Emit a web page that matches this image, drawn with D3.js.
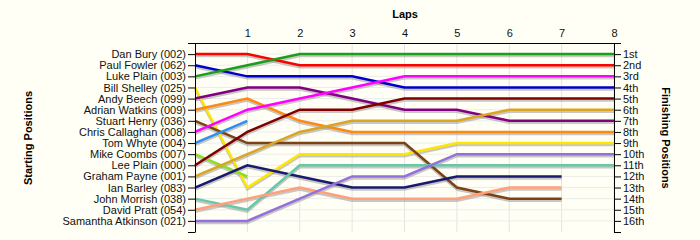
<!DOCTYPE html>
<html>
<head>
<meta charset="utf-8">
<script src="https://cdn.jsdelivr.net/npm/d3@7"></script>
<style>
  body { margin: 0; background: #fffff5; }
  svg { display: block; font-family: "Liberation Sans", Arial, sans-serif; }
</style>
</head>
<body>
<div id="chart"></div>
<script>
const width = 700;
const height = 240;

// drivers in starting order
const drivers = [
  "Dan Bury (002)", "Paul Fowler (062)", "Luke Plain (003)", "Bill Shelley (025)",
  "Andy Beech (099)", "Adrian Watkins (009)", "Stuart Henry (036)", "Chris Callaghan (008)",
  "Tom Whyte (004)", "Mike Coombs (007)", "Lee Plain (000)", "Graham Payne (001)",
  "Ian Barley (083)", "John Morrish (038)", "David Pratt (054)", "Samantha Atkinson (021)"
];
const colors = [
  "#ff0000", "#0000cc", "#1a9f1a", "#ffe600",
  "#800080", "#ff8811", "#7b4213", "#ff00ff",
  "#2f8fef", "#88e022", "#800000", "#daa520",
  "#191970", "#66c8a8", "#ffa07a", "#9370db"
];
// position at lap 0..n (lines stop where the driver stopped)
const positions = [
  [1, 1, 2, 2, 2, 2, 2, 2, 2],
  [2, 3, 3, 3, 4, 4, 4, 4, 4],
  [3, 2, 1, 1, 1, 1, 1, 1, 1],
  [4, 13, 10, 10, 10, 9, 9, 9, 9],
  [5, 4, 4, 5, 6, 6, 7, 7, 7],
  [6, 5, 7, 8, 8, 8, 8, 8, 8],
  [7, 9, 9, 9, 9, 13, 14, 14],
  [8, 6, 5, 4, 3, 3, 3, 3, 3],
  [9, 7],
  [10, 12],
  [11, 8, 6, 6, 5, 5, 5, 5, 5],
  [12, 10, 8, 7, 7, 7, 6, 6, 6],
  [13, 11, 12, 13, 13, 12, 12, 12],
  [14, 15, 11, 11, 11, 11, 11, 11, 11],
  [15, 14, 13, 14, 14, 14, 13, 13],
  [16, 16, 14, 12, 12, 10, 10, 10, 10]
];
const laps = [1, 2, 3, 4, 5, 6, 7, 8];
const finishLabels = ["1st", "2nd", "3rd", "4th", "5th", "6th", "7th", "8th",
  "9th", "10th", "11th", "12th", "13th", "14th", "15th", "16th"];

const svg = d3.select("#chart")
  .append("svg")
  .attr("width", width)
  .attr("height", height)
  .style("background", "#fffff5");

const x = d3.scaleLinear().domain([0, 8]).range([195, 614]);
const y = d3.scaleLinear().domain([0, 17]).range([43, 232]);
const rows = d3.range(0, 18);

// grid
svg.append("g")
  .selectAll("line")
  .data(laps)
  .join("line")
  .attr("x1", d => x(d)).attr("x2", d => x(d))
  .attr("y1", y(0)).attr("y2", y(17))
  .attr("stroke", "#e4e4e4");
svg.append("g")
  .selectAll("line")
  .data(d3.range(1, 17))
  .join("line")
  .attr("x1", x(0)).attr("x2", x(8))
  .attr("y1", d => y(d)).attr("y2", d => y(d))
  .attr("stroke", "#ececec");

const line = d3.line()
  .x((d, i) => x(i))
  .y(d => y(d));

// shadows first, then the coloured lines
svg.append("g")
  .attr("transform", "translate(0,2)")
  .selectAll("path")
  .data(positions)
  .join("path")
  .attr("d", line)
  .attr("fill", "none")
  .attr("stroke", "#999")
  .attr("stroke-opacity", 0.55)
  .attr("stroke-width", 2.5);

svg.append("g")
  .selectAll("path")
  .data(positions)
  .join("path")
  .attr("d", line)
  .attr("fill", "none")
  .attr("stroke", (d, i) => colors[i])
  .attr("stroke-width", 2.5);

// axes
const fmtLeft = d => (d >= 1 && d <= 16 ? drivers[d - 1] : "");
const fmtRight = d => (d >= 1 && d <= 16 ? finishLabels[d - 1] : "");

const leftAxis = svg.append("g")
  .attr("transform", `translate(${x(0)},0)`)
  .call(d3.axisLeft(y).tickValues(rows).tickFormat(fmtLeft).tickSize(7).tickSizeOuter(0).tickPadding(2));

const rightAxis = svg.append("g")
  .attr("transform", `translate(${x(8)},0)`)
  .call(d3.axisRight(y).tickValues(rows).tickFormat(fmtRight).tickSize(7).tickSizeOuter(0).tickPadding(2));

const topAxis = svg.append("g")
  .attr("transform", `translate(0,${y(0)})`)
  .call(d3.axisTop(x).tickValues(laps).tickFormat(d3.format("d")).tickSize(0).tickPadding(6));

// top line runs across the outer ticks
topAxis.select(".domain")
  .attr("d", `M${x(0) - 7},0.5H${x(8) + 7}`);

[leftAxis, rightAxis, topAxis].forEach(g => {
  g.attr("font-family", "'Liberation Sans', Arial, sans-serif")
    .attr("font-size", 11);
  g.selectAll("text").attr("fill", "#111");
  g.selectAll("line, path").attr("stroke", "#000");
});

// titles
svg.append("text")
  .attr("x", 405).attr("y", 18)
  .attr("text-anchor", "middle")
  .attr("font-size", 11).attr("font-weight", "bold")
  .text("Laps");

svg.append("text")
  .attr("transform", "translate(32,138) rotate(-90)")
  .attr("text-anchor", "middle")
  .attr("font-size", 11).attr("font-weight", "bold")
  .text("Starting Positions");

svg.append("text")
  .attr("transform", "translate(662,138) rotate(90)")
  .attr("text-anchor", "middle")
  .attr("font-size", 11).attr("font-weight", "bold")
  .text("Finishing Positions");
</script>
</body>
</html>
